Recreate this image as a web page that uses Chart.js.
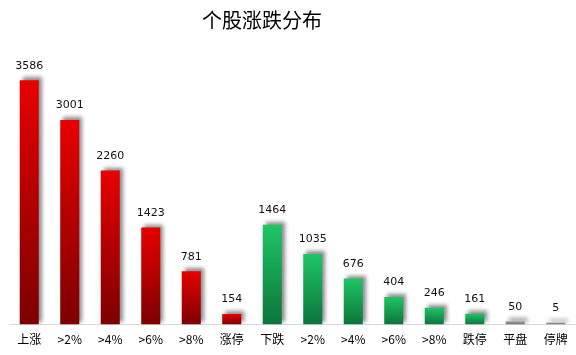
<!DOCTYPE html>
<html>
<head>
<meta charset="utf-8">
<script src="https://cdn.jsdelivr.net/npm/chart.js@4/dist/chart.umd.min.js"></script>
<style>
  html, body { margin: 0; padding: 0; background: #fff; }
  #wrap { width: 576px; height: 355px; }
</style>
</head>
<body>
<div id="wrap"><canvas id="c"></canvas></div>
<script>
const categories = ["上涨", ">2%", ">4%", ">6%", ">8%", "涨停", "下跌", ">2%", ">4%", ">6%", ">8%", "跌停", "平盘", "停牌"];
const counts = [3586, 3001, 2260, 1423, 781, 154, 1464, 1035, 676, 404, 246, 161, 50, 5];
// colour group per bar: up / down / flat
const groups = ["up", "up", "up", "up", "up", "up", "down", "down", "down", "down", "down", "down", "flat", "flat"];

const palette = {
  up: ["#e80000", "#7c0000"],
  down: ["#1fc566", "#0c743b"],
  flat: ["#a8a8a8", "#6a6a6a"]
};

// gradient from top of each bar down to the axis
function barFill(context) {
  const chart = context.chart;
  const y = chart.scales.y;
  const c = palette[groups[context.dataIndex]];
  if (!chart.chartArea || !y) return c[0];
  const top = Math.min(y.getPixelForValue(counts[context.dataIndex]), y.getPixelForValue(0) - 2);
  const bottom = y.getPixelForValue(0);
  const g = chart.ctx.createLinearGradient(0, top, 0, bottom);
  g.addColorStop(0, c[0]);
  g.addColorStop(1, c[1]);
  return g;
}

const barShadow = {
  id: "barShadow",
  beforeDatasetDraw(chart) {
    const ctx = chart.ctx;
    ctx.save();
    ctx.shadowColor = "rgba(0,0,0,0.45)";
    ctx.shadowBlur = 4;
    ctx.shadowOffsetX = 3;
    ctx.shadowOffsetY = -3;
  },
  afterDatasetDraw(chart) {
    chart.ctx.restore();
  }
};

const valueLabels = {
  id: "valueLabels",
  afterDatasetsDraw(chart) {
    const ctx = chart.ctx;
    const meta = chart.getDatasetMeta(0);
    ctx.save();
    ctx.font = "11px 'DejaVu Sans'";
    ctx.fillStyle = "#111";
    ctx.textAlign = "center";
    ctx.textBaseline = "bottom";
    meta.data.forEach((bar, i) => {
      ctx.fillText(String(counts[i]), bar.x, bar.y - 9);
    });
    ctx.restore();
  }
};

const titleText = {
  id: "titleText",
  afterDraw(chart) {
    const ctx = chart.ctx;
    ctx.save();
    ctx.font = "20px 'Noto Sans CJK SC'";
    ctx.fillStyle = "#000";
    ctx.textAlign = "center";
    ctx.textBaseline = "middle";
    ctx.fillText("个股涨跌分布", 262, 20);
    ctx.restore();
  }
};

new Chart(document.getElementById("c"), {
  type: "bar",
  data: {
    labels: categories,
    datasets: [{
      data: counts,
      backgroundColor: barFill,
      barPercentage: 0.47,
      categoryPercentage: 1,
      minBarLength: 2
    }]
  },
  options: {
    responsive: true,
    maintainAspectRatio: false,
    animation: false,
    layout: { padding: { top: 52, left: 9, right: 0, bottom: 0 } },
    plugins: { legend: { display: false }, title: { display: false }, tooltip: { enabled: false } },
    scales: {
      x: {
        grid: { display: false, drawTicks: false },
        border: { display: true, color: "#d9d9d9", width: 1 },
        ticks: { color: "#000", padding: 8, maxRotation: 0, autoSkip: false, font: { size: 12, family: "'Noto Sans CJK SC'" } }
      },
      y: { display: false, min: 0, max: 4000 }
    }
  },
  plugins: [barShadow, valueLabels, titleText]
});
</script>
</body>
</html>
